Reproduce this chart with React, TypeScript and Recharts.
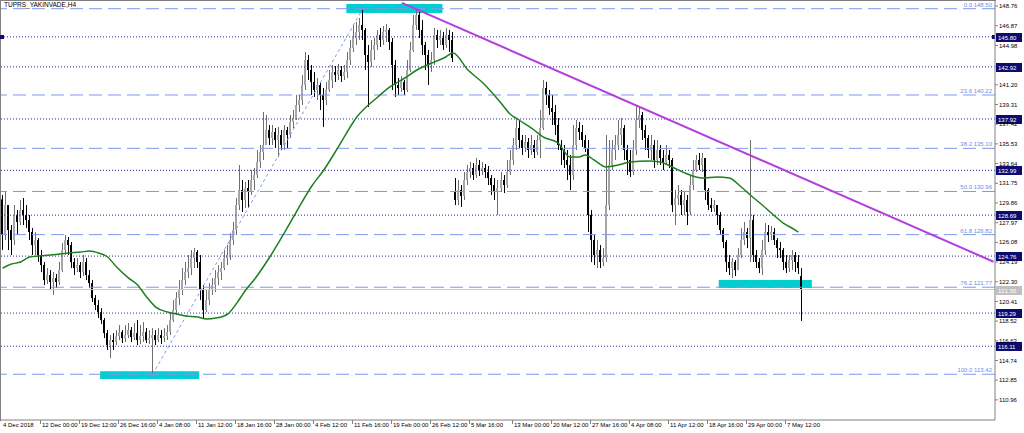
import { ComposedChart, Bar, Line, XAxis, YAxis, ReferenceLine, ReferenceArea } from 'recharts'

const F = '"Liberation Sans", Arial, sans-serif'

// H4 closes, highs, lows (open = previous close unless overridden)
const closes = [
  126.78, 129.66, 127.26, 126.30, 128.70, 128.03, 129.18, 128.70, 128.22, 127.07,
  125.82, 126.30, 124.86, 123.90, 122.46, 122.94, 122.27, 122.65, 122.27, 123.42,
  125.34, 126.30, 125.82, 124.19, 123.61, 123.90, 123.23, 124.19, 122.94, 122.17,
  120.73, 120.06, 119.39, 118.62, 117.37, 116.22, 116.70, 116.51, 117.08, 117.47,
  116.89, 117.18, 117.66, 116.99, 117.37, 116.70, 117.08, 117.47, 116.70, 116.89,
  117.18, 116.70, 117.18, 116.89, 117.08, 117.47, 118.62, 119.58, 120.73, 121.50,
  122.46, 123.23, 123.61, 124.57, 125.15, 124.19, 121.50, 119.58, 120.54, 121.50,
  121.98, 122.65, 123.23, 123.61, 124.57, 124.86, 126.30, 127.26, 129.66, 131.10,
  130.14, 131.29, 130.91, 132.06, 132.54, 133.79, 134.75, 135.42, 136.86, 136.09,
  136.67, 135.90, 136.38, 135.42, 136.86, 136.38, 137.63, 138.01, 139.26, 139.74,
  141.18, 143.58, 142.62, 141.47, 140.70, 141.18, 140.22, 139.74, 140.70, 141.66,
  142.43, 142.14, 142.62, 142.04, 142.43, 143.58, 144.73, 145.69, 146.27, 146.94,
  146.46, 144.06, 143.39, 144.54, 145.02, 145.98, 145.50, 146.27, 146.46, 145.31,
  143.10, 141.18, 140.89, 141.47, 140.70, 142.62, 144.54, 146.94, 147.90, 146.46,
  145.02, 144.06, 143.10, 143.58, 145.98, 145.50, 145.69, 145.02, 145.98, 145.50,
  143.77, 130.14, 131.10, 130.53, 132.06, 132.83, 133.21, 132.54, 133.50, 133.02,
  133.21, 132.83, 132.25, 131.58, 130.91, 131.29, 132.06, 131.58, 132.83, 133.98,
  135.42, 137.05, 135.90, 135.13, 135.71, 134.94, 135.42, 134.75, 135.90, 137.05,
  140.89, 140.22, 138.97, 138.59, 137.34, 135.42, 134.94, 133.98, 133.50, 132.54,
  135.42, 137.05, 136.67, 135.90, 135.13, 128.70, 126.30, 124.86, 125.34, 124.19,
  124.57, 129.66, 133.50, 134.94, 135.42, 136.38, 137.05, 134.94, 133.98, 132.83,
  134.94, 137.82, 138.30, 136.86, 136.09, 134.94, 135.42, 133.98, 134.94, 134.17,
  133.79, 134.46, 133.98, 129.66, 130.33, 130.62, 129.66, 130.14, 128.99, 131.58,
  133.02, 133.98, 133.50, 134.17, 131.10, 129.66, 129.37, 129.66, 128.70, 127.26,
  126.11, 124.19, 123.61, 124.19, 123.42, 124.86, 126.30, 127.07, 126.49, 128.22,
  124.86, 124.19, 123.61, 125.34, 127.07, 126.78, 127.07, 126.30, 125.53, 125.34,
  124.19, 123.61, 124.38, 124.86, 124.19, 123.61, 121.55,
]

const highs = [
  130.62, 130.91, 129.18, 127.74, 129.66, 129.18, 130.14, 130.33, 129.66, 128.70,
  127.45, 127.07, 126.49, 125.34, 124.19, 123.61, 123.42, 123.23, 123.04, 124.19,
  126.01, 126.78, 126.59, 126.11, 124.57, 124.57, 124.19, 124.86, 124.57, 123.42,
  122.46, 121.02, 120.54, 119.77, 118.81, 117.66, 117.18, 117.37, 117.66, 118.14,
  117.66, 118.14, 118.33, 117.95, 118.33, 118.62, 118.14, 118.43, 117.85, 117.66,
  117.85, 117.66, 117.85, 117.66, 117.85, 118.14, 119.39, 120.54, 121.31, 122.46,
  123.61, 124.19, 124.86, 125.34, 125.53, 125.34, 124.86, 121.98, 121.50, 122.17,
  122.65, 123.42, 123.90, 124.19, 125.34, 125.82, 126.97, 128.03, 130.33, 133.50,
  132.06, 131.87, 132.06, 133.02, 133.21, 134.94, 135.42, 138.59, 138.30, 137.34,
  137.34, 137.05, 137.15, 136.86, 137.34, 137.15, 138.30, 138.78, 140.22, 140.22,
  142.14, 144.35, 144.06, 143.10, 142.43, 141.85, 141.37, 140.89, 141.47, 142.62,
  143.10, 143.00, 143.20, 143.00, 143.10, 144.35, 145.50, 146.94, 147.23, 147.61,
  148.50, 146.65, 145.02, 145.50, 145.69, 146.46, 146.65, 146.84, 147.04, 146.65,
  145.69, 143.58, 141.85, 142.04, 141.66, 143.58, 145.31, 147.90, 148.38, 148.19,
  147.42, 145.31, 144.54, 144.35, 146.65, 146.46, 146.46, 146.27, 146.65, 146.46,
  146.27, 132.25, 132.06, 131.58, 132.83, 133.50, 133.79, 133.69, 134.17, 133.98,
  133.79, 133.60, 133.40, 132.54, 132.25, 132.06, 132.83, 132.54, 133.98, 134.94,
  136.09, 138.01, 137.82, 136.38, 136.38, 136.09, 136.38, 135.90, 136.38, 138.78,
  141.66, 141.47, 140.70, 140.22, 139.26, 138.01, 135.90, 135.42, 134.94, 134.46,
  137.34, 137.82, 137.63, 137.34, 136.38, 135.90, 129.18, 126.78, 126.30, 125.82,
  125.53, 136.38, 135.90, 135.90, 136.38, 137.82, 138.01, 137.34, 135.42, 134.94,
  135.90, 139.26, 139.07, 138.59, 137.34, 136.38, 136.38, 135.90, 135.90, 135.42,
  134.94, 135.42, 134.94, 134.17, 131.10, 131.58, 131.10, 130.91, 130.62, 132.54,
  133.98, 134.46, 134.65, 134.65, 133.98, 131.29, 130.33, 130.14, 129.66, 128.99,
  127.45, 126.30, 124.86, 124.57, 124.38, 125.53, 127.45, 128.03, 127.45, 135.90,
  128.70, 125.34, 124.57, 126.30, 127.93, 127.74, 127.65, 127.45, 126.49, 126.11,
  125.53, 124.86, 124.86, 125.34, 125.15, 124.86, 123.61,
]

const lows = [
  125.34, 126.30, 125.34, 124.86, 125.82, 126.78, 127.74, 127.74, 127.45, 126.30,
  124.86, 124.86, 124.19, 123.23, 121.98, 122.08, 121.50, 121.02, 121.69, 121.98,
  123.23, 124.86, 124.86, 123.61, 122.94, 123.23, 122.65, 122.84, 122.46, 121.69,
  120.35, 119.58, 118.81, 118.24, 116.89, 115.74, 114.97, 115.74, 116.22, 116.70,
  116.41, 116.51, 116.89, 116.51, 116.70, 116.22, 116.32, 116.51, 116.41, 116.32,
  113.42, 116.22, 116.51, 116.32, 116.51, 116.70, 117.18, 118.43, 119.10, 120.06,
  121.02, 121.98, 122.65, 122.94, 123.61, 123.61, 120.54, 118.81, 119.39, 120.06,
  121.02, 121.31, 121.98, 122.46, 123.42, 123.90, 124.38, 125.82, 126.78, 129.18,
  128.99, 129.37, 129.37, 130.62, 131.10, 132.25, 133.21, 133.98, 135.90, 135.42,
  135.42, 135.13, 134.27, 134.94, 134.94, 135.13, 136.09, 137.05, 137.82, 138.59,
  139.26, 140.70, 141.66, 140.22, 140.03, 139.74, 138.78, 137.15, 139.26, 140.51,
  140.89, 141.47, 141.66, 141.47, 141.66, 141.85, 143.10, 144.35, 145.02, 145.50,
  145.50, 142.62, 139.07, 142.91, 143.58, 144.54, 144.83, 145.02, 145.31, 144.54,
  140.70, 140.03, 140.22, 140.51, 140.22, 140.51, 142.43, 144.35, 146.46, 145.69,
  144.06, 142.62, 141.18, 142.43, 143.10, 144.73, 145.02, 144.54, 144.73, 144.35,
  143.39, 129.66, 129.66, 129.47, 130.14, 131.58, 132.25, 132.06, 132.25, 132.44,
  132.54, 132.25, 131.58, 130.62, 130.14, 128.70, 130.91, 130.81, 131.29, 132.54,
  133.50, 134.94, 135.13, 134.46, 134.75, 134.17, 134.46, 134.17, 134.46, 134.17,
  136.86, 139.26, 138.30, 137.34, 136.38, 134.94, 133.50, 133.21, 132.06, 131.10,
  132.06, 134.94, 135.90, 135.23, 134.75, 127.07, 124.19, 123.90, 123.61, 123.61,
  123.80, 124.19, 129.18, 133.02, 133.98, 134.94, 135.42, 133.98, 132.54, 132.35,
  132.54, 134.46, 137.05, 135.90, 134.94, 134.17, 133.98, 133.21, 133.50, 133.50,
  133.02, 133.50, 133.21, 128.99, 127.74, 129.66, 128.70, 128.70, 127.74, 128.70,
  131.10, 132.83, 133.02, 132.83, 130.14, 129.18, 128.99, 128.99, 127.74, 126.78,
  125.53, 123.23, 122.94, 122.65, 122.84, 123.42, 124.57, 125.82, 125.53, 124.19,
  124.19, 123.61, 123.13, 122.94, 124.86, 126.11, 126.30, 125.82, 124.57, 124.57,
  123.42, 123.13, 123.23, 123.42, 123.23, 123.04, 118.53,
]

const openOverrides: Record<number, number> = { 0: 130.2, 151: 130.91, 266: 122.84 }

// moving average, read at selected bars
const maIdx = [
  0, 3, 6, 9, 12, 16, 19, 22, 26, 29, 32, 35, 38, 42, 45, 48, 51, 55, 58, 61,
  65, 68, 71, 75, 78, 81, 84, 89, 94, 98, 103, 107, 112, 118, 125, 129, 134, 138, 143, 147,
  150, 155, 160, 166, 169, 172, 177, 180, 185, 189, 192, 194, 197, 201, 205, 209, 215, 219, 223, 228,
  233, 238, 242, 246, 249, 253, 256, 260, 264, 265,
]
const maVal = [
  123.61, 124.0, 124.19, 124.67, 124.77, 124.86, 124.96, 125.05, 125.15, 125.24,
  125.05, 124.67, 123.71, 122.65, 121.98, 120.83, 119.87, 119.39, 119.2, 119.01,
  118.91, 118.72, 118.81, 119.2, 120.25, 121.5, 122.56, 124.67, 127.07, 129.08,
  131.49, 133.02, 135.32, 138.11, 140.03, 140.99, 141.85, 142.62, 143.29, 143.77,
  144.25, 142.62, 141.37, 139.45, 138.4, 137.82, 136.86, 136.19, 135.61, 134.27,
  134.27, 134.46, 133.98, 133.31, 133.5, 133.79, 133.88, 133.79, 133.31, 132.64,
  132.25, 132.35, 132.25, 131.39, 130.62, 129.66, 128.89, 127.93, 127.26, 127.07,
]

const SLOTS = 331

const tickIdx = [0, 13, 26, 39, 52, 65, 78, 91, 104, 117, 130, 143, 156, 170, 183, 196, 209, 222, 235, 248, 261]
const tickLabels = [
  '4 Dec 2018', '12 Dec 00:00', '19 Dec 12:00', '26 Dec 16:00', '4 Jan 08:00', '11 Jan 12:00',
  '18 Jan 16:00', '28 Jan 00:00', '4 Feb 12:00', '11 Feb 16:00', '19 Feb 00:00', '26 Feb 12:00',
  '5 Mar 16:00', '13 Mar 00:00', '20 Mar 12:00', '27 Mar 16:00', '4 Apr 08:00', '11 Apr 12:00',
  '18 Apr 16:00', '29 Apr 00:00', '7 May 12:00',
]

const yTicks = [
  148.76, 146.87, 144.98, 141.2, 139.31, 137.42, 135.53, 133.64, 131.75, 129.86,
  127.97, 126.08, 124.19, 122.3, 120.41, 118.52, 116.63, 114.74, 112.85, 110.96,
]

const fibNames = ['0.0', '23.6', '38.2', '50.0', '61.8', '76.2', '100.0']
const fibPrices = [148.5, 140.22, 135.1, 130.96, 126.82, 121.77, 113.42]
const levels = [145.8, 142.92, 137.92, 132.99, 128.69, 124.76, 119.29, 116.11]
const lastPrice = 121.55

const trendStart = { i: 133, v: 149.06 }
const trendEnd = { i: 330, v: 124.22 }
const fibLow = { i: 50, v: 113.42 }
const fibHigh = { i: 120, v: 148.5 }

const boxes = [
  { i1: 115, i2: 146, lo: 148.09, hi: 148.96 },
  { i1: 33, i2: 65, lo: 112.96, hi: 113.72 },
  { i1: 239, i2: 269, lo: 121.69, hi: 122.46 },
]

const data: any[] = Array.from({ length: SLOTS }, (_, i) => {
  if (i >= closes.length) return { i }
  const o = openOverrides[i] ?? closes[i - 1]
  const c = closes[i]
  const h = Math.max(highs[i], o, c)
  const l = Math.min(lows[i], o, c)
  return { i, o, c, h, l, range: [l, h] }
})
maIdx.forEach((k, j) => {
  data[k].ma = maVal[j]
})

const Candle = (props: any) => {
  const { x, y, width, height, payload } = props
  if (!payload || payload.o == null) return null
  const { o, c, h, l } = payload
  const top = Math.min(y, y + height)
  const hh = Math.abs(height)
  const span = h - l || 1
  const py = (v: number) => top + ((h - v) / span) * hh
  const cx = Math.floor(x + width / 2) + 0.5
  const up = c >= o
  const b1 = py(Math.max(o, c))
  const b2 = py(Math.min(o, c))
  return (
    <g>
      <line x1={cx} x2={cx} y1={top} y2={top + hh} stroke={up ? '#6e6e6e' : '#000'} strokeWidth={1} />
      <rect x={cx - 1.5} y={b1} width={2} height={Math.max(1, b2 - b1)} fill={up ? '#a6a6a6' : '#000'} />
    </g>
  )
}

const XTick = (props: any) => {
  const { x, y, payload } = props
  const k = tickIdx.indexOf(payload.value)
  const tx = Math.round(x - 1.5) + 0.5
  return (
    <g>
      {k > 0 && <line x1={tx} x2={tx} y1={y} y2={y + 4} stroke="#808080" />}
      <text x={tx + 1.5} y={y + 7} fontSize={6} fontFamily={F} fill="#000">
        {tickLabels[k]}
      </text>
    </g>
  )
}

const FibLabel = (props: any) => {
  const { viewBox, text } = props
  if (!viewBox) return null
  return (
    <text x={viewBox.x + viewBox.width - 3} y={viewBox.y - 2} textAnchor="end" fontSize={6} fontFamily={F} fill="#6f8ae6">
      {text}
    </text>
  )
}

const BoxLabel = (props: any) => {
  const { viewBox, text, bg, marker } = props
  if (!viewBox) return null
  const bx = viewBox.x + viewBox.width + 1
  const by = Math.round(viewBox.y) - 4
  return (
    <g>
      {marker && <rect x={viewBox.x - 1} y={by + 2} width={4} height={4} fill="#0b0b70" />}
      {marker && <rect x={viewBox.x + viewBox.width - 3} y={by + 2} width={3} height={4} fill="#0b0b70" />}
      <rect x={bx} y={by} width={26} height={9} fill={bg} />
      <text x={bx + 2} y={by + 7} fontSize={6} fontFamily={F} fill="#fff">
        {text}
      </text>
    </g>
  )
}

export default function App() {
  return (
    <div style={{ position: 'absolute', left: 0, top: 0, width: 1024, height: 433, background: '#fff' }}>
      <div
        style={{
          position: 'absolute', left: 0, top: 0, width: 996, height: 421, boxSizing: 'border-box',
          borderLeft: '1px solid #808080', borderTop: '1px solid #808080',
        }}
      />
      <div style={{ position: 'absolute', left: 4, top: 1, fontFamily: F, fontSize: 6.5, color: '#000', zIndex: 2 }}>
        TUPRS_YAKINVADE,H4
      </div>
      <div style={{ position: 'absolute', left: 0, top: 0 }}>
        <ComposedChart
          width={1024}
          height={433}
          data={data}
          margin={{ top: 1, left: 1, right: 0, bottom: 0 }}
          barCategoryGap={0}
          barGap={0}
        >
          <XAxis
            dataKey="i"
            type="category"
            ticks={tickIdx}
            interval={0}
            tick={<XTick />}
            tickLine={false}
            tickSize={0}
            tickMargin={0}
            height={13}
            axisLine={{ stroke: '#808080' }}
          />
          <YAxis
            orientation="right"
            type="number"
            domain={[109.03, 149.24]}
            allowDataOverflow
            ticks={yTicks}
            interval={0}
            width={29}
            tickSize={3}
            tickMargin={1}
            axisLine={{ stroke: '#808080' }}
            tickLine={{ stroke: '#808080' }}
            tick={{ fontSize: 6, fill: '#000', fontFamily: F }}
            tickFormatter={(v: number) => v.toFixed(2)}
          />
          {fibPrices.map((p, k) => (
            <ReferenceLine
              key={'f' + k}
              y={p}
              stroke="#7f98ee"
              strokeDasharray="13 6"
              label={<FibLabel text={fibNames[k] + ' ' + p.toFixed(2)} />}
            />
          ))}
          {levels.map((p, k) => (
            <ReferenceLine
              key={'l' + k}
              y={p}
              stroke="#2b2b9e"
              strokeDasharray="1 2"
              label={<BoxLabel text={p.toFixed(2)} bg="#0b0b70" marker={k === 0} />}
            />
          ))}
          <ReferenceLine y={lastPrice} stroke="#c8c8c8" label={<BoxLabel text={lastPrice.toFixed(2)} bg="#c0c0c0" />} />
          {boxes.map((b, k) => (
            <ReferenceArea
              key={'b' + k}
              x1={b.i1}
              x2={b.i2}
              y1={b.lo}
              y2={b.hi}
              fill="#00ced1"
              fillOpacity={1}
              stroke="none"
            />
          ))}
          <ReferenceLine
            segment={[{ x: fibLow.i, y: fibLow.v }, { x: fibHigh.i, y: fibHigh.v }]}
            stroke="#7f98ee"
            strokeDasharray="3 3"
          />
          <Bar dataKey="range" isAnimationActive={false} shape={(p: any) => <Candle {...p} />} />
          <Line
            dataKey="ma"
            type="monotone"
            connectNulls
            dot={false}
            stroke="#1d7f1d"
            strokeWidth={1.5}
            isAnimationActive={false}
          />
          <ReferenceLine
            segment={[{ x: trendStart.i, y: trendStart.v }, { x: trendEnd.i, y: trendEnd.v }]}
            stroke="#b440dc"
            strokeWidth={2}
          />
        </ComposedChart>
      </div>
    </div>
  )
}
